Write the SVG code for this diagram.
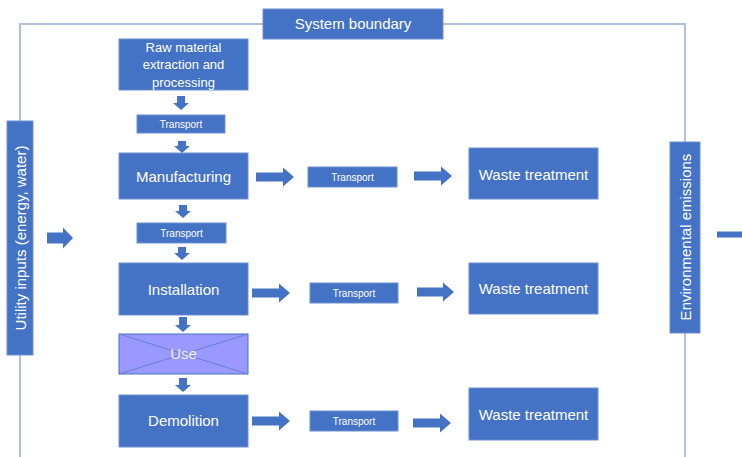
<svg xmlns="http://www.w3.org/2000/svg" width="742" height="457" viewBox="0 0 742 457">
<style>
.box{fill:#4472C4;stroke:#6F8FD0;stroke-width:1}
.t{font-family:"Liberation Sans",Arial,sans-serif;fill:#ffffff;text-anchor:middle}
.big{font-size:15px}
.mid{font-size:13px}
.sm{font-size:10px}
.arr{fill:#4472C4}
.bnd{fill:none;stroke:#AFC0DC;stroke-width:2}
</style>
<rect width="742" height="457" fill="#ffffff"/>
<g id="connectors">
<path class="bnd" d="M20 121V24H263M443 24H685V142M20 355V457M685 333V457"/>
<polygon class="arr" points="177,96 185,96 185,103 189,103 181,110 173,103 177,103"/>
<polygon class="arr" points="178,141 186,141 186,146 190,146 182,153 174,146 178,146"/>
<polygon class="arr" points="179,205 187,205 187,211 191,211 183,218 175,211 179,211"/>
<polygon class="arr" points="178,247 186,247 186,253 190,253 182,260 174,253 178,253"/>
<polygon class="arr" points="179,317 187,317 187,325 191,325 183,332 175,325 179,325"/>
<polygon class="arr" points="179,378 187,378 187,385 191,385 183,392 175,385 179,385"/>
<polygon class="arr" points="256,172.5 283,172.5 283,167.5 294,177 283,186.5 283,181.5 256,181.5"/>
<polygon class="arr" points="414,171.5 441,171.5 441,166.5 452,176 441,185.5 441,180.5 414,180.5"/>
<polygon class="arr" points="252,288.5 279,288.5 279,283.5 290,293 279,302.5 279,297.5 252,297.5"/>
<polygon class="arr" points="417,287.5 443,287.5 443,282.5 454,292 443,301.5 443,296.5 417,296.5"/>
<polygon class="arr" points="252,416.5 279,416.5 279,411.5 290,421 279,430.5 279,425.5 252,425.5"/>
<polygon class="arr" points="413,418.5 440,418.5 440,413.5 451,423 440,432.5 440,427.5 413,427.5"/>
<polygon class="arr" points="47,232.5 63,232.5 63,227.5 73,238 63,248.5 63,243.5 47,243.5"/>
<rect class="arr" x="717" y="231.5" width="25" height="6"/>
</g>
<g id="system-boundary">
<rect class="box" x="263" y="9" width="180" height="30"/>
<text class="t big" x="353" y="29">System boundary</text>
</g>
<g id="raw-material">
<rect class="box" x="119" y="39" width="129" height="51"/>
<text class="t mid" x="183.5" y="51.5">Raw material</text>
<text class="t mid" x="183.5" y="69">extraction and</text>
<text class="t mid" x="183.5" y="86.5">processing</text>
</g>
<g id="transport-1">
<rect class="box" x="137" y="115" width="88" height="18"/>
<text class="t sm" x="181" y="127.5">Transport</text>
</g>
<g id="manufacturing">
<rect class="box" x="119" y="153" width="129" height="46"/>
<text class="t big" x="183.5" y="181.5">Manufacturing</text>
</g>
<g id="transport-m">
<rect class="box" x="308" y="167" width="89" height="20"/>
<text class="t sm" x="352.5" y="180.5">Transport</text>
</g>
<g id="waste-1">
<rect class="box" x="469" y="148" width="129" height="51"/>
<text class="t big" x="533.5" y="179.5">Waste treatment</text>
</g>
<g id="transport-2">
<rect class="box" x="137" y="223" width="89" height="20"/>
<text class="t sm" x="181.5" y="236.5">Transport</text>
</g>
<g id="installation">
<rect class="box" x="119" y="263" width="129" height="52"/>
<text class="t big" x="183.5" y="294.5">Installation</text>
</g>
<g id="transport-i">
<rect class="box" x="310" y="283" width="88" height="20"/>
<text class="t sm" x="354" y="296.5">Transport</text>
</g>
<g id="waste-2">
<rect class="box" x="469" y="263" width="129" height="51"/>
<text class="t big" x="533.5" y="293.5">Waste treatment</text>
</g>
<g id="use">
<rect x="119" y="334" width="129" height="40" fill="#9999FF" stroke="#4472C4" stroke-width="1"/>
<path d="M119 334L248 374M248 334L119 374" stroke="#6A7FD0" stroke-width="1" fill="none"/>
<text class="t big" x="183.5" y="359" fill="#EDEDFF" style="fill:#EEEEFF">Use</text>
</g>
<g id="demolition">
<rect class="box" x="119" y="395" width="129" height="52"/>
<text class="t big" x="183.5" y="425.5">Demolition</text>
</g>
<g id="transport-d">
<rect class="box" x="310" y="411" width="88" height="20"/>
<text class="t sm" x="354" y="424.5">Transport</text>
</g>
<g id="waste-3">
<rect class="box" x="469" y="388" width="129" height="52"/>
<text class="t big" x="533.5" y="419.5">Waste treatment</text>
</g>
<g id="utility-inputs">
<rect class="box" x="7" y="121" width="26" height="234"/>
<text class="t big" transform="translate(25.5,238) rotate(-90)" x="0" y="0">Utility inputs (energy, water)</text>
</g>
<g id="environmental-emissions">
<rect class="box" x="670" y="142" width="30" height="191"/>
<text class="t big" transform="translate(690.5,237) rotate(-90)" x="0" y="0">Environmental emissions</text>
</g>
</svg>
